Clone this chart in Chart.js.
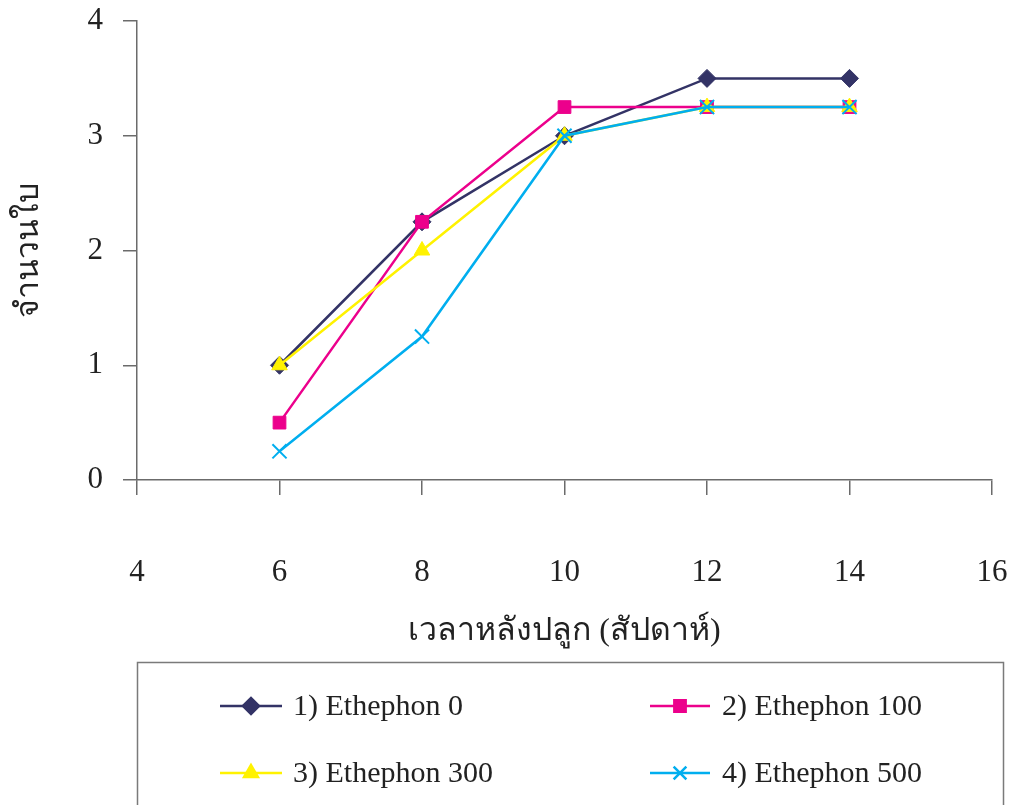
<!DOCTYPE html>
<html>
<head>
<meta charset="utf-8">
<script src="https://cdn.jsdelivr.net/npm/chart.js@4/dist/chart.umd.min.js"></script>
<style>
  html, body { margin: 0; padding: 0; background: #fff; }
  #wrap { width: 1016px; height: 805px; }
</style>
</head>
<body>
<div id="wrap"><canvas id="leafChart" width="1016" height="805"></canvas></div>
<script>
// Data
const weeks = [6, 8, 10, 12, 14];
const eth0 = [1, 2.25, 3, 3.5, 3.5];
const eth100 = [0.5, 2.25, 3.25, 3.25, 3.25];
const eth300 = [1, 2, 3, 3.25, 3.25];
const eth500 = [0.25, 1.25, 3, 3.25, 3.25];
const seriesNames = ['1) Ethephon 0', '2) Ethephon 100', '3) Ethephon 300', '4) Ethephon 500'];
const xTitle = 'เวลาหลังปลูก (สัปดาห์)';
const yTitle = 'จำนวนใบ';

const colors = ['#333366', '#EC008C', '#FFF200', '#00AEEF'];
const markers = ['rectRot', 'rect', 'triangle', 'crossRot'];
const markerSizes = [9, 9, 9, 10];
const FONT = '"Liberation Serif", "Times New Roman", serif';
const axisColor = '#6b6b6b';

const allSeries = [eth0, eth100, eth300, eth500];

function toPoints(values){
    return weeks.map((w, i)=> ({x: w, y: values[i]}));
}

const datasets = allSeries.map((vals, i)=>({
    label: seriesNames[i],
    data: toPoints(vals),
    borderColor: colors[i],
    backgroundColor: colors[i],
    borderWidth: 2.5,
    pointStyle: markers[i],
    pointRadius: markerSizes[i],
    pointBackgroundColor: colors[i],
    pointBorderColor: colors[i],
    pointBorderWidth: markers[i] === 'crossRot' ? 2 : 1,
    tension: 0,
    order: 3 - i
}));

// legend drawn by hand: line + marker + label in a boxed 2x2 grid
const boxLegend = {
    id: 'boxLegend',
    afterDraw(chart){
        const ctx = chart.ctx;
        ctx.save();
        ctx.strokeStyle = '#7a7a7a';
        ctx.lineWidth = 1.5;
        ctx.strokeRect(137.5, 662.5, 866, 170);

        const cols = [[220, 282, 293], [650, 710, 722]];
        const rows = [706, 773];
        seriesNames.forEach((name, i)=>{
            const c = cols[i % 2];
            const y = rows[Math.floor(i / 2)];
            ctx.strokeStyle = colors[i];
            ctx.lineWidth = 2.5;
            ctx.beginPath();
            ctx.moveTo(c[0], y);
            ctx.lineTo(c[1], y);
            ctx.stroke();
            Chart.helpers.drawPoint(ctx, {
                pointStyle: markers[i],
                radius: markerSizes[i] - 1,
                borderWidth: markers[i] === 'crossRot' ? 2 : 1,
                rotation: 0
            }, (c[0] + c[1]) / 2, y);
            ctx.fillStyle = colors[i];
            ctx.strokeStyle = colors[i];
            ctx.fill();
            ctx.fillStyle = '#222';
            ctx.font = '30px ' + FONT;
            ctx.textBaseline = 'middle';
            ctx.textAlign = 'left';
            ctx.fillText(name, c[2], y + 1);
        });
        ctx.restore();
    }
};

new Chart(document.getElementById('leafChart').getContext('2d'), {
    type: 'line',
    data: { datasets: datasets },
    options: {
        responsive: false,
        animation: false,
        devicePixelRatio: 1,
        layout: { padding: { left: 10, right: 24, top: 21, bottom: 150 } },
        plugins: {
            legend: { display: false },
            tooltip: { enabled: false }
        },
        scales: {
            x: {
                type: 'linear',
                min: 4,
                max: 16,
                ticks: {
                    stepSize: 2,
                    color: '#222',
                    padding: 59,
                    maxRotation: 0,
                    font: { family: FONT, size: 31 }
                },
                grid: { drawOnChartArea: false, drawTicks: true, tickLength: 15, color: axisColor, lineWidth: 1.5 },
                border: { display: true, color: axisColor, width: 1.5 },
                title: {
                    display: true,
                    text: xTitle,
                    color: '#222',
                    font: { family: FONT, size: 32 },
                    padding: { top: 23, bottom: 4 }
                },
                afterFit(scale){
                    scale.height = 175;
                    scale.paddingLeft = 0;
                    scale.paddingRight = 0;
                }
            },
            y: {
                min: 0,
                max: 4,
                ticks: {
                    stepSize: 1,
                    color: '#222',
                    padding: 20,
                    font: { family: FONT, size: 31 }
                },
                grid: { drawOnChartArea: false, drawTicks: true, tickLength: 14, color: axisColor, lineWidth: 1.5 },
                border: { display: true, color: axisColor, width: 1.5 },
                title: {
                    display: true,
                    text: yTitle,
                    color: '#222',
                    font: { family: FONT, size: 32 },
                    padding: 0
                },
                afterFit(scale){
                    scale.width = 127;
                    scale.paddingTop = 0;
                    scale.paddingBottom = 0;
                }
            }
        }
    },
    plugins: [boxLegend]
});
</script>
</body>
</html>
